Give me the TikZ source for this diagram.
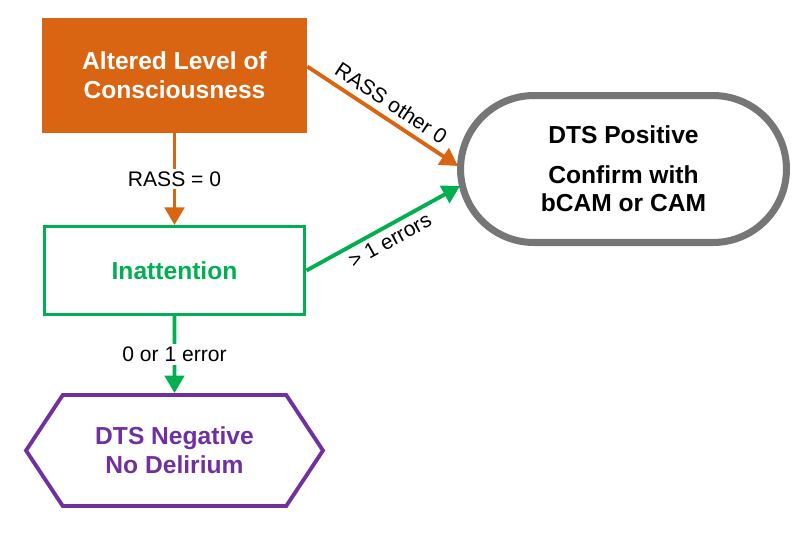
\documentclass[tikz,border=0pt]{standalone}
\usepackage{fontspec}
\setsansfont{Liberation Sans}
\usepackage{xcolor}
\usepackage{tikz}
\usetikzlibrary{arrows.meta}
\usetikzlibrary{calc,positioning,shapes.misc,shapes.symbols}
\definecolor{dtsOrange}{RGB}{217,101,18}
\definecolor{dtsGreen}{RGB}{0,176,80}
\definecolor{dtsPurple}{RGB}{112,48,160}
\definecolor{dtsGray}{RGB}{118,118,118}
\tikzset{%
  >={Triangle[width=11pt,length=10pt]},
  % Specifications for style of nodes:
  base/.style = {align=center, inner sep=0pt,
    font=\sffamily\bfseries\fontsize{14}{16.4}\selectfont},
  alteredBox/.style = {base, rectangle, fill=dtsOrange, text=white,
    minimum width=5.3cm, minimum height=2.3cm},
  inattBox/.style = {base, rectangle, draw=dtsGreen, line width=1.7pt,
    text=dtsGreen, minimum width=5.22cm, minimum height=1.76cm},
  negativeBox/.style = {base, signal, signal to=west and east,
    signal pointer angle=113, draw=dtsPurple, line width=2.2pt,
    text=dtsPurple, minimum width=5.94cm, minimum height=2.22cm},
  positiveBox/.style = {base, rounded rectangle, draw=dtsGray,
    line width=4pt, fill=white, text=black,
    minimum width=6.52cm, minimum height=2.94cm},
  edgeLabel/.style = {font=\sffamily\fontsize{12}{14}\selectfont,
    inner sep=1.5pt},
  orangeFlow/.style = {->, draw=dtsOrange, line width=2.2pt},
  greenFlow/.style = {->, draw=dtsGreen, line width=2.2pt},
}

\begin{document}
\begin{tikzpicture}[x=0.02cm, y=-0.02cm]
  \useasboundingbox (0,0) rectangle (800,538);
  % Specification of nodes (position, etc.)
  \node(Altered)[alteredBox] at (174.5,75.5) {Altered Level of\\Consciousness};
  \node(Inatt)[inattBox] at (174.5,270.5) {Inattention};
  \node(Negative)[negativeBox] at (174.5,450.5) {DTS Negative\\No Delirium};
  \node(Positive)[positiveBox] at (623.5,169) {DTS Positive\\[6pt]Confirm with\\bCAM or CAM};
  \draw[orangeFlow](Altered) -- node[edgeLabel, fill=white]{RASS = 0} (Inatt);
  \draw[orangeFlow]($(Altered.east)+(0,-9)$) -- node[edgeLabel, sloped, above=2pt]{RASS other 0} ($(Positive.west)+(1,-3)$);
  \draw[greenFlow](Inatt.east) -- node[edgeLabel, sloped, below=1pt]{> 1 errors} ($(Positive.west)+(3,17)$);
  \draw[greenFlow](Inatt) -- node[edgeLabel, fill=white]{0 or 1 error} (Negative);
\end{tikzpicture}
\end{document}
